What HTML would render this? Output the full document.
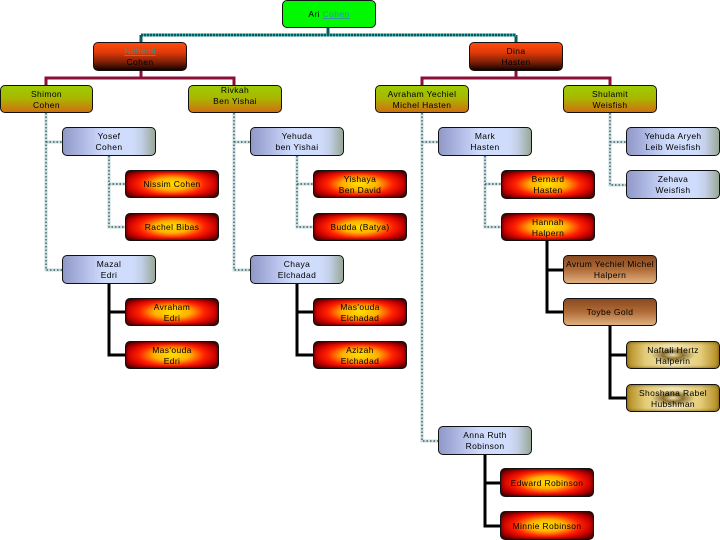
<!DOCTYPE html>
<html><head><meta charset="utf-8">
<style>
html,body{margin:0;padding:0;background:#fff}
#p{position:relative;width:720px;height:540px;overflow:hidden;background:#fff;font:8.5px/11px "Liberation Sans",sans-serif;color:#000;letter-spacing:.37px}
svg{position:absolute;left:0;top:0}
.n{position:absolute;box-sizing:border-box;width:94px;height:29px;border:1px solid #111;border-radius:5px;display:flex;align-items:center;justify-content:center;text-align:center;white-space:nowrap}
.n span{filter:blur(.2px);position:relative;top:.5px}
.g{background:#00f800}
.t{background:linear-gradient(#ff4a10,#e03a08 35%,#802008 70%,#180000)}
.o{background:linear-gradient(#9ccc00,#a8b800 45%,#d07010)}
.b{background:linear-gradient(90deg,#9098c8,#b4bee8 25%,#d0dcfc 45%,#d0dcfc 75%,#c4d0e8 85%,#98a898)}
.r{background:radial-gradient(ellipse 60px 20px,#ffe000 0,#ffb000 30%,#ff2000 55%,#c80000 75%,#700000 90%,#300000 100%);box-shadow:inset 0 0 3px #300}
.w{background:linear-gradient(#8a4a20,#b06c38 50%,#e0b080)}
.y{background:radial-gradient(ellipse 22px 8px,#f0e0b0 0,#8a7030 45%,rgba(138,112,48,0) 100%),linear-gradient(90deg,#b08a20,#e4cc78 20%,#f4e8b8 50%,#e4cc78 80%,#b08a20);box-shadow:inset 0 0 3px #705010}
u{color:#2a9a9a}
</style></head><body>
<div id="p">
<svg width="720" height="540" fill="none">
<g stroke="#0d5c5c" stroke-width="3"><path d="M328 28V35"/><path d="M141 35V42M516 35V42"/></g>
<path d="M141 35H516" stroke="#24b4b4" stroke-width="3"/>
<path d="M141 35H516" stroke="#0d5c5c" stroke-width="3" stroke-dasharray="2 1"/>
<g stroke="#8a1038" stroke-width="3"><path d="M141 71V78M46 85V78H234V85"/><path d="M516 71V78M422 85V78H610V85"/></g>
<g stroke="#c4dede" stroke-width="3">
<path d="M46 113V270H62M46 142H62M234 113V270H250M234 142H250M422 113V441H438M422 142H438M610 113V185H626M610 142H626M109 156V227H125M109 184H125M297 156V227H313M297 184H313M485 156V227H501M485 184H501"/>
</g>
<g stroke="#345" stroke-width="1.2" stroke-dasharray="1.5 2">
<path d="M46 113V270H62M46 142H62M234 113V270H250M234 142H250M422 113V441H438M422 142H438M610 113V185H626M610 142H626M109 156V227H125M109 184H125M297 156V227H313M297 184H313M485 156V227H501M485 184H501"/>
</g>
<g stroke="#000" stroke-width="3">
<path d="M109 284V355H125M109 312H125M297 284V355H313M297 312H313M547 241V312H563M547 270H563M610 326V398H626M610 355H626M485 455V526H500M485 483H500"/>
</g>
</svg>
<div class="n g" style="left:282px;top:0;height:28px"><span>Ari <u>Cohen</u></span></div>
<div class="n t" style="left:93px;top:42px"><span><u>Nehemi</u><br>Cohen</span></div>
<div class="n t" style="left:469px;top:42px"><span>Dina<br>Hasten</span></div>
<div class="n o" style="left:0;top:85px;width:93px;height:28px"><span>Shimon<br>Cohen</span></div>
<div class="n o" style="left:188px;top:85px;height:28px;align-items:flex-start"><span style="top:-1px">Rivkah<br>Ben Yishai</span></div>
<div class="n o" style="left:375px;top:85px;height:28px"><span>Avraham Yechiel<br>Michel Hasten</span></div>
<div class="n o" style="left:563px;top:85px;height:28px"><span>Shulamit<br>Weisfish</span></div>
<div class="n b" style="left:62px;top:127px"><span>Yosef<br>Cohen</span></div>
<div class="n b" style="left:250px;top:127px"><span>Yehuda<br>ben Yishai</span></div>
<div class="n b" style="left:438px;top:127px"><span>Mark<br>Hasten</span></div>
<div class="n b" style="left:626px;top:127px"><span>Yehuda Aryeh<br>Leib Weisfish</span></div>
<div class="n r" style="left:125px;top:170px;height:28px"><span>Nissim Cohen</span></div>
<div class="n r" style="left:313px;top:170px;height:28px"><span>Yishaya<br>Ben David</span></div>
<div class="n r" style="left:501px;top:170px"><span>Bernard<br>Hasten</span></div>
<div class="n b" style="left:626px;top:170px"><span>Zehava<br>Weisfish</span></div>
<div class="n r" style="left:125px;top:213px;height:28px"><span>Rachel Bibas</span></div>
<div class="n r" style="left:313px;top:213px;height:28px"><span>Budda (Batya)</span></div>
<div class="n r" style="left:501px;top:213px;height:28px"><span>Hannah<br>Halpern</span></div>
<div class="n b" style="left:62px;top:255px"><span>Mazal<br>Edri</span></div>
<div class="n b" style="left:250px;top:255px"><span>Chaya<br>Elchadad</span></div>
<div class="n w" style="left:563px;top:255px"><span>Avrum Yechiel Michel<br>Halpern</span></div>
<div class="n r" style="left:125px;top:298px;height:28px"><span>Avraham<br>Edri</span></div>
<div class="n r" style="left:313px;top:298px;height:28px"><span>Mas'ouda<br>Elchadad</span></div>
<div class="n w" style="left:563px;top:298px;height:28px"><span>Toybe Gold</span></div>
<div class="n r" style="left:125px;top:341px;height:28px"><span>Mas'ouda<br>Edri</span></div>
<div class="n r" style="left:313px;top:341px;height:28px"><span>Azizah<br>Elchadad</span></div>
<div class="n y" style="left:626px;top:341px;height:28px"><span>Naftali Hertz<br>Halperin</span></div>
<div class="n y" style="left:626px;top:384px;height:28px"><span>Shoshana Rabel<br>Hubshman</span></div>
<div class="n b" style="left:438px;top:426px"><span>Anna Ruth<br>Robinson</span></div>
<div class="n r" style="left:500px;top:468px"><span>Edward Robinson</span></div>
<div class="n r" style="left:500px;top:511px"><span>Minnie Robinson</span></div>
</div>
</body></html>
